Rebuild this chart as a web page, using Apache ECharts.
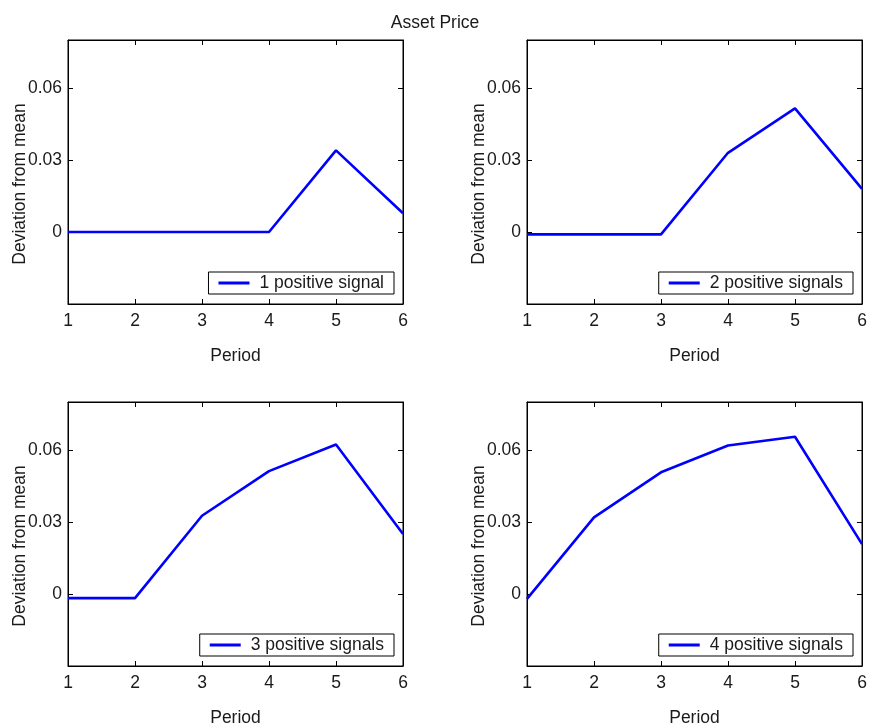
<!DOCTYPE html>
<html>
<head>
<meta charset="utf-8">
<script src="https://cdn.jsdelivr.net/npm/echarts@6/dist/echarts.min.js"></script>
<style>html,body{margin:0;padding:0;background:#fff;}#c{width:870px;height:728px;}</style>
</head>
<body>
<div id="c"></div>
<script>
const titleText = 'Asset Price';
const xName = 'Period';
const yName = 'Deviation from mean';
const periods = [1, 2, 3, 4, 5, 6];
const series1 = [0, 0, 0, 0, 0.034, 0.0078];
const series2 = [-0.001, -0.001, -0.001, 0.033, 0.0515, 0.018];
const series3 = [-0.0017, -0.0017, 0.0326, 0.0512, 0.0623, 0.025];
const series4 = [-0.002, 0.0319, 0.0507, 0.0619, 0.0655, 0.0208];
const seriesNames = ['1 positive signal', '2 positive signals', '3 positive signals', '4 positive signals'];
const yTickLabels = [0, 0.03, 0.06];
const yMin = -0.03, yMax = 0.08;
const xMin = 1, xMax = 6;

const allSeries = [series1, series2, series3, series4];
const FONT = '"Liberation Sans", Arial, Helvetica, sans-serif';
const FS = 17.5;
const TXT = '#1a1a1a';

// layout of the four panels
const grids = [
  {left: 68, top: 40, width: 335, height: 264},
  {left: 527, top: 40, width: 335, height: 264},
  {left: 68, top: 402, width: 335, height: 264},
  {left: 527, top: 402, width: 335, height: 264}
];

function yFmt(v) {
  for (const t of yTickLabels) {
    if (Math.abs(v - t) < 1e-9) return t === 0 ? '0' : t.toFixed(2);
  }
  return '';
}

const option = {
  animation: false,
  backgroundColor: '#fff',
  title: {
    text: titleText, left: 'center', top: 9,
    textStyle: {fontFamily: FONT, fontSize: FS, fontWeight: 'normal', color: TXT}
  },
  grid: grids.map(g => Object.assign({show: true, borderColor: '#000', borderWidth: 1, backgroundColor: '#fff'}, g)),
  xAxis: [],
  yAxis: [],
  legend: [],
  series: []
};

grids.forEach((g, i) => {
  option.xAxis.push({
    type: 'value', gridIndex: i, min: xMin, max: xMax, interval: 1, position: 'bottom',
    name: xName, nameLocation: 'middle', nameGap: 43, nameMoveOverlap: false,
    nameTextStyle: {fontFamily: FONT, fontSize: FS, color: TXT},
    axisLine: {show: true, onZero: false, lineStyle: {color: '#000', width: 1}},
    axisTick: {show: true, inside: true, length: 5, lineStyle: {color: '#000'}},
    axisLabel: {show: true, margin: 8, fontFamily: FONT, fontSize: FS, color: TXT},
    splitLine: {show: false}
  });
  option.xAxis.push({
    type: 'value', gridIndex: i, min: xMin, max: xMax, interval: 1, position: 'top',
    axisLine: {show: true, onZero: false, lineStyle: {color: '#000', width: 1}},
    axisTick: {show: true, inside: true, length: 5, lineStyle: {color: '#000'}},
    axisLabel: {show: false}, splitLine: {show: false}
  });
  option.yAxis.push({
    type: 'value', gridIndex: i, min: yMin, max: yMax, interval: 0.03, position: 'left',
    name: yName, nameLocation: 'middle', nameGap: 39, nameMoveOverlap: false,
    nameTextStyle: {fontFamily: FONT, fontSize: FS, color: TXT, padding: [0, 24, 0, 0]},
    axisLine: {show: true, onZero: false, lineStyle: {color: '#000', width: 1}},
    axisTick: {show: true, inside: true, length: 5, lineStyle: {color: '#000'}},
    axisLabel: {show: true, margin: 6, fontFamily: FONT, fontSize: FS, color: TXT, formatter: yFmt},
    splitLine: {show: false}
  });
  option.yAxis.push({
    type: 'value', gridIndex: i, min: yMin, max: yMax, interval: 0.03, position: 'right',
    axisLine: {show: true, onZero: false, lineStyle: {color: '#000', width: 1}},
    axisTick: {show: true, inside: true, length: 5, lineStyle: {color: '#000'}},
    axisLabel: {show: false}, splitLine: {show: false}
  });
  const legRight = 870 - (g.left + g.width) + 9;
  option.legend.push({
    data: [seriesNames[i]],
    right: legRight, top: g.top + 232,
    orient: 'horizontal',
    backgroundColor: '#fff', borderColor: '#000', borderWidth: 1,
    padding: [2, 10, 2, 10], borderRadius: 0,
    icon: 'rect', itemWidth: 31, itemHeight: 3,
    textStyle: {fontFamily: FONT, fontSize: FS, color: TXT, padding: [0, 0, 0, 5]},
    selectedMode: false
  });
  option.series.push({
    name: seriesNames[i], type: 'line', xAxisIndex: 2 * i, yAxisIndex: 2 * i,
    symbol: 'none', showSymbol: false,
    lineStyle: {color: '#0000ff', width: 2.6}, itemStyle: {color: '#0000ff'},
    data: periods.map((p, j) => [p, allSeries[i][j]])
  });
});

const chart = echarts.init(document.getElementById('c'), null, {renderer: 'canvas'});
chart.setOption(option);
</script>
</body>
</html>
